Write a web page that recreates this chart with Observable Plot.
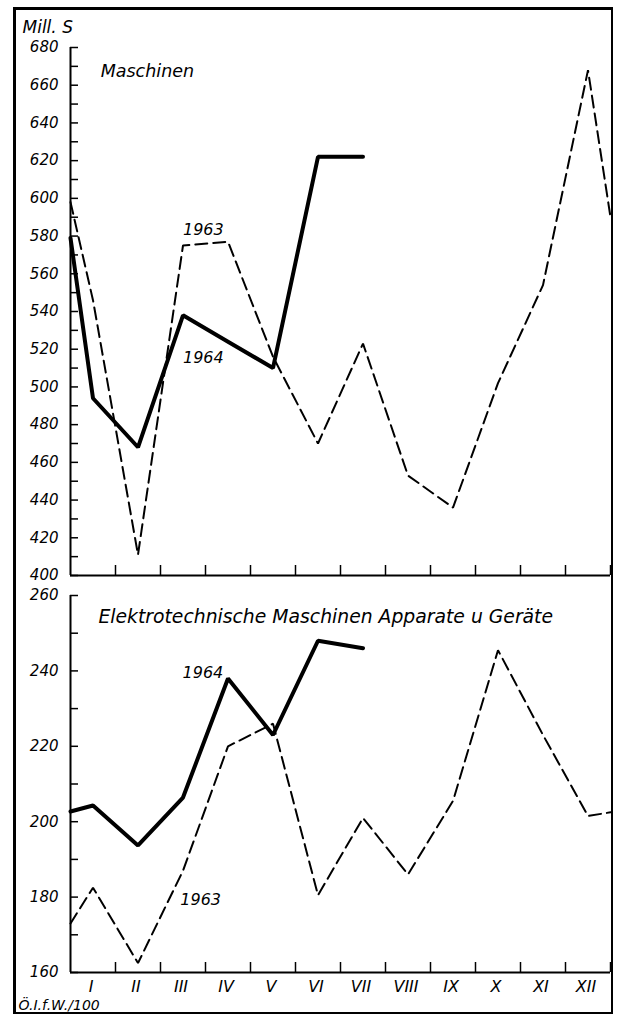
<!DOCTYPE html>
<html>
<head>
<meta charset="utf-8">
<script src="https://cdn.jsdelivr.net/npm/d3@7"></script>
<script src="https://cdn.jsdelivr.net/npm/@observablehq/plot@0.6"></script>
<style>
html, body { margin: 0; padding: 0; background: #fff; }
#wrap { position: relative; width: 621px; height: 1017px; overflow: hidden; background: #fff; }
#frame { position: absolute; left: 13px; top: 7px; width: 600px; height: 1007px; box-sizing: border-box;
  border-left: 3px solid #000; border-top: 3px solid #000; border-right: 2px solid #000; border-bottom: 2px solid #000; }
#top, #bottom { position: absolute; left: 0; }
#top { top: 0; }
#bottom { top: 580px; }
svg { overflow: visible; }
</style>
</head>
<body>
<div id="wrap">
  <div id="frame"></div>
  <div id="top"></div>
  <div id="bottom"></div>
</div>
<script>
// ---- data ----
const monthLabels = ["I","II","III","IV","V","VI","VII","VIII","IX","X","XI","XII"];
// x positions: 0.5 = left frame edge (carry-over), 1..12 = months, 12.5 = right frame edge
const xFull = [0.5, 1, 2, 3, 4, 5, 6, 7, 8, 9, 10, 11, 12, 12.5];
const xPart = [0.5, 1, 2, 3, 4, 5, 6, 7];

// Maschinen (Mill. S)
const maschinen1963 = [598, 546, 411, 575, 577, 516, 470, 523, 453, 436, 502, 554, 668, 590];
const maschinen1964 = [579, 494, 468, 538, 524, 510, 622, 622];

// Elektrotechnische Maschinen, Apparate u. Geräte (Mill. S)
const elektro1963 = [173, 182.5, 162.5, 187, 220, 226, 180.5, 201, 186, 205.5, 245.5, 223, 201.5, 202.5];
const elektro1964 = [202.7, 204.3, 193.7, 206.4, 238, 223, 248, 246];

const topTicks = d3.range(400, 681, 10);
const topLabels = d3.range(400, 681, 20);
const botTicks = d3.range(160, 261, 10);
const botLabels = d3.range(160, 261, 20);
const monthTicks = d3.range(1, 13);
const boundaries = d3.range(1.5, 12.6, 1);

const toRows = (xs, vs) => vs.map((v, i) => ({x: xs[i], v}));

const baseStyle = {fontFamily: "'DejaVu Sans', sans-serif", fontStyle: "italic", background: "transparent", color: "#000", overflow: "visible"};

const dashed = {stroke: "#000", strokeWidth: 2, strokeDasharray: "12,6", strokeLinejoin: "miter"};
const solid = {stroke: "#000", strokeWidth: 4, strokeLinejoin: "miter"};

const topPlot = Plot.plot({
  width: 621, height: 580,
  marginLeft: 70, marginRight: 11, marginTop: 47, marginBottom: 5,
  x: {domain: [0.5, 12.5], axis: null, label: null},
  y: {domain: [400, 680], axis: null, label: null},
  style: baseStyle,
  marks: [
    Plot.ruleX([0.5], {stroke: "#000", strokeWidth: 2}),
    Plot.ruleY([400], {stroke: "#000", strokeWidth: 2}),
    Plot.axisY({ticks: topTicks, tickSize: 8, dx: 8, tickFormat: () => "", strokeWidth: 1.5, label: null}),
    Plot.axisY({ticks: topLabels, tickSize: 0, tickPadding: 12, fontSize: 15, label: null}),
    Plot.axisX({ticks: boundaries, tickSize: 10, dy: -10, tickFormat: () => "", strokeWidth: 1.5, label: null}),
    Plot.line(toRows(xFull, maschinen1963), {x: "x", y: "v", ...dashed}),
    Plot.line(toRows(xPart, maschinen1964), {x: "x", y: "v", ...solid}),
    Plot.text(["Mill. S"], {frameAnchor: "top-left", dx: -48, dy: -15, textAnchor: "start", lineAnchor: "bottom", fontSize: 17}),
    Plot.text([{x: 1.17, y: 664.5, t: "Maschinen"}], {x: "x", y: "y", text: "t", textAnchor: "start", lineAnchor: "bottom", fontSize: 17.5}),
    Plot.text([{x: 3, y: 580.5, t: "1963"}], {x: "x", y: "y", text: "t", textAnchor: "start", lineAnchor: "bottom", fontSize: 16}),
    Plot.text([{x: 3, y: 512.5, t: "1964"}], {x: "x", y: "y", text: "t", textAnchor: "start", lineAnchor: "bottom", fontSize: 16})
  ]
});
document.getElementById("top").appendChild(topPlot);

const botPlot = Plot.plot({
  width: 621, height: 437,
  marginLeft: 70, marginRight: 11, marginTop: 15, marginBottom: 45,
  x: {domain: [0.5, 12.5], axis: null, label: null},
  y: {domain: [160, 260], axis: null, label: null},
  style: baseStyle,
  marks: [
    Plot.ruleX([0.5], {stroke: "#000", strokeWidth: 2}),
    Plot.ruleY([160], {stroke: "#000", strokeWidth: 2}),
    Plot.axisY({ticks: botTicks, tickSize: 8, dx: 8, tickFormat: () => "", strokeWidth: 1.5, label: null}),
    Plot.axisY({ticks: botLabels, tickSize: 0, tickPadding: 12, fontSize: 15, label: null}),
    Plot.axisX({ticks: boundaries, tickSize: 10, dy: -10, tickFormat: () => "", strokeWidth: 1.5, label: null}),
    Plot.axisX({ticks: monthTicks, tickSize: 0, tickPadding: 8, dx: -2, tickFormat: d => monthLabels[d - 1], fontSize: 16, label: null}),
    Plot.line(toRows(xFull, elektro1963), {x: "x", y: "v", ...dashed}),
    Plot.line(toRows(xPart, elektro1964), {x: "x", y: "v", ...solid}),
    Plot.text([{x: 1.12, y: 252.6, t: "Elektrotechnische Maschinen Apparate u Geräte"}], {x: "x", y: "y", text: "t", textAnchor: "start", lineAnchor: "bottom", fontSize: 18.8}),
    Plot.text([{x: 2.99, y: 238.2, t: "1964"}], {x: "x", y: "y", text: "t", textAnchor: "start", lineAnchor: "bottom", fontSize: 16}),
    Plot.text([{x: 2.94, y: 177.8, t: "1963"}], {x: "x", y: "y", text: "t", textAnchor: "start", lineAnchor: "bottom", fontSize: 16}),
    Plot.text(["Ö.I.f.W./100"], {frameAnchor: "bottom-left", dx: -52, dy: 37.5, textAnchor: "start", lineAnchor: "bottom", fontSize: 14})
  ]
});
document.getElementById("bottom").appendChild(botPlot);
</script>
</body>
</html>
